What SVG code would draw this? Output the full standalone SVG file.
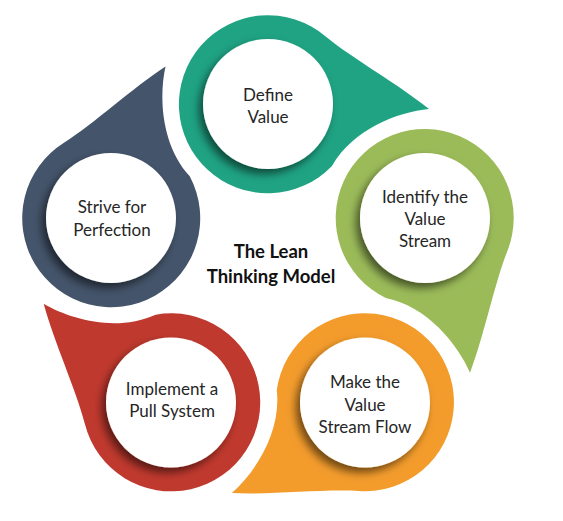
<svg xmlns="http://www.w3.org/2000/svg" width="563" height="521" viewBox="0 0 563 521">
<defs>
<style>
.lbl{font-family:Lato,"Liberation Sans",sans-serif;font-size:17px;fill:#262626;text-anchor:middle}
.ttl{font-family:Lato,"Liberation Sans",sans-serif;font-size:18.5px;font-weight:bold;fill:#111;text-anchor:middle}
.inner{fill:#fff;filter:url(#sh)}
</style>
<filter id="sh" x="-30%" y="-30%" width="160%" height="160%">
<feDropShadow dx="-4" dy="5" stdDeviation="4" flood-color="#000" flood-opacity="0.55"/>
</filter>
<path id="drop" d="M57,-68 C85,-45 130,-20 161,5 C130,8 85,25 64,62 A89,89 0 1 1 57,-68 Z"/>
</defs>
<rect width="563" height="521" fill="#fff"/>
<g id="node-define">
<use href="#drop" transform="translate(268,104)" fill="#1fa383"/>
<circle class="inner" cx="268" cy="104" r="65"/>
<text class="lbl" x="268" y="101">Define</text>
<text class="lbl" x="268" y="123">Value</text>
</g>
<g id="node-identify">
<use href="#drop" transform="translate(425,218) rotate(72)" fill="#9bbb59"/>
<circle class="inner" cx="425" cy="218" r="65"/>
<text class="lbl" x="425" y="203">Identify the</text>
<text class="lbl" x="425" y="225">Value</text>
<text class="lbl" x="425" y="247">Stream</text>
</g>
<g id="node-flow">
<use href="#drop" transform="translate(365,402.5) rotate(144)" fill="#f39c2c"/>
<circle class="inner" cx="365" cy="402.5" r="65"/>
<text class="lbl" x="365" y="388">Make the</text>
<text class="lbl" x="365" y="411">Value</text>
<text class="lbl" x="365" y="433">Stream Flow</text>
</g>
<g id="node-pull">
<use href="#drop" transform="translate(171,402.5) rotate(216)" fill="#c0392e"/>
<circle class="inner" cx="171" cy="402.5" r="65"/>
<text class="lbl" x="172" y="395">Implement a</text>
<text class="lbl" x="172" y="417">Pull System</text>
</g>
<g id="node-perfection">
<use href="#drop" transform="translate(111,218) rotate(288)" fill="#44546a"/>
<circle class="inner" cx="111" cy="218" r="65"/>
<text class="lbl" x="112" y="213">Strive for</text>
<text class="lbl" x="112" y="236">Perfection</text>
</g>
<g id="connectors"></g>
<g id="title">
<text class="ttl" x="271" y="258">The Lean</text>
<text class="ttl" x="271" y="283">Thinking Model</text>
</g>
</svg>
